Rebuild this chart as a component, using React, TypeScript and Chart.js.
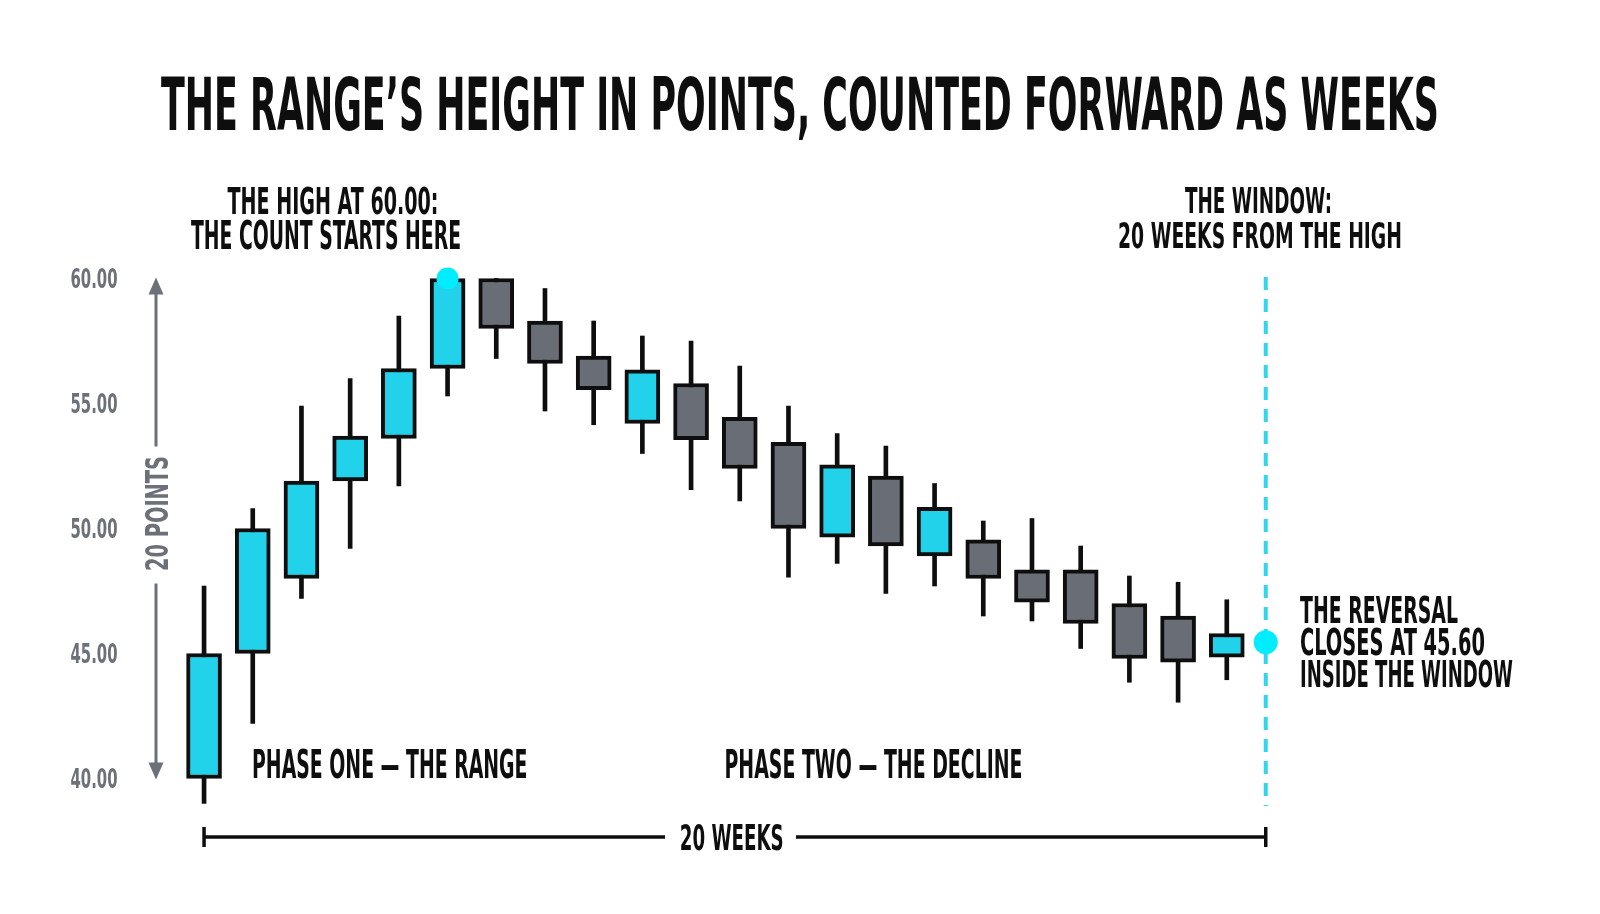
import { useEffect, useRef } from 'react';
import { Chart, registerables } from 'chart.js';

Chart.register(...registerables);

// weekly candles
const weeks = [0, 1, 2, 3, 4, 5, 6, 7, 8, 9, 10, 11, 12, 13, 14, 15, 16, 17, 18, 19, 20, 21];
const opens = [40.0, 45.0, 48.0, 51.9, 53.6, 56.4, 60.0, 58.3, 56.9, 54.2, 55.8, 54.45, 53.45, 49.65, 52.1, 48.9, 49.55, 48.35, 48.35, 47.0, 46.5, 44.85];
const closes = [45.0, 50.0, 51.9, 53.7, 56.4, 60.0, 58.0, 56.6, 55.55, 56.35, 53.55, 52.4, 50.0, 52.55, 49.3, 50.85, 48.0, 47.05, 46.2, 44.8, 44.65, 45.8];
const highs = [47.7, 50.8, 54.9, 56.0, 58.5, 60.0, 60.0, 59.6, 58.3, 57.7, 57.5, 56.5, 54.9, 53.8, 53.3, 51.8, 50.3, 50.4, 49.3, 48.1, 47.85, 47.15];
const lows = [39.0, 42.2, 47.2, 49.2, 51.7, 55.3, 56.8, 54.7, 54.15, 53.0, 51.55, 51.1, 48.05, 48.6, 47.4, 47.7, 46.5, 46.3, 45.2, 43.85, 43.05, 43.95];

const yTicks = [40, 45, 50, 55, 60];

// the two marked points: the high, and the close on the window line
const markerX = [5, 21.8];
const markerY = [60.0, 45.45];
const windowX = 21.8;
const windowSpan = [60.06, 38.9];

const CYAN = '#22d1ea';
const GRAY = '#686d76';
const INK = '#0e0e0e';
const DOT = '#00edff';
const AXIS = '#6b7079';
const FONT = "'Liberation Sans Narrow', 'DejaVu Sans Condensed', 'DejaVu Sans', sans-serif";

function fitText(
  ctx: CanvasRenderingContext2D,
  text: string,
  x: number,
  baseline: number,
  capH: number,
  width: number,
  align: CanvasTextAlign,
  color: string,
) {
  ctx.save();
  ctx.font = `bold ${capH / 0.72}px ${FONT}`;
  const w = ctx.measureText(text).width;
  ctx.translate(x, baseline);
  ctx.scale(width / w, 1);
  ctx.textAlign = align;
  ctx.textBaseline = 'alphabetic';
  ctx.fillStyle = color;
  ctx.fillText(text, 0, 0);
  ctx.restore();
}

const annotations = {
  id: 'annotations',
  afterDraw(chart: Chart) {
    const ctx = chart.ctx;
    const xs = chart.scales.x;
    const ys = chart.scales.y;
    const area = chart.chartArea;

    // title
    fitText(ctx, 'THE RANGE\u2019S HEIGHT IN POINTS, COUNTED FORWARD AS WEEKS', 800, 129.5, 52, 1278, 'center', INK);

    // callouts
    fitText(ctx, 'THE HIGH AT 60.00:', 333, 214, 27, 211, 'center', INK);
    fitText(ctx, 'THE COUNT STARTS HERE', 326, 249, 27.5, 270, 'center', INK);
    fitText(ctx, 'THE WINDOW:', 1258.5, 213, 26, 147, 'center', INK);
    fitText(ctx, '20 WEEKS FROM THE HIGH', 1260, 247.5, 25.5, 284, 'center', INK);
    fitText(ctx, 'THE REVERSAL', 1300, 623, 26.5, 158, 'left', INK);
    fitText(ctx, 'CLOSES AT 45.60', 1300, 655, 27, 185, 'left', INK);
    fitText(ctx, 'INSIDE THE WINDOW', 1300, 687, 27, 213, 'left', INK);
    fitText(ctx, 'PHASE ONE \u2014 THE RANGE', 252, 777.5, 27.5, 275.5, 'left', INK);
    fitText(ctx, 'PHASE TWO \u2014 THE DECLINE', 724.5, 777.5, 27.5, 298, 'left', INK);

    // y tick labels
    ys.ticks.forEach((t) => {
      const py = ys.getPixelForValue(t.value);
      fitText(ctx, t.value.toFixed(2), 117.5, py + 9.75, 19.5, 47, 'right', AXIS);
    });

    // vertical "20 points" arrow
    const ax = area.left + 25;
    const top = ys.getPixelForValue(60) - 1;
    const bot = ys.getPixelForValue(40) + 1;
    const midY = 513.5;
    ctx.save();
    ctx.strokeStyle = AXIS;
    ctx.fillStyle = AXIS;
    ctx.lineWidth = 3;
    ctx.beginPath();
    ctx.moveTo(ax, top + 12);
    ctx.lineTo(ax, midY - 67);
    ctx.moveTo(ax, midY + 70);
    ctx.lineTo(ax, bot - 12);
    ctx.stroke();
    ctx.beginPath();
    ctx.moveTo(ax, top);
    ctx.lineTo(ax - 7.5, top + 17);
    ctx.lineTo(ax + 7.5, top + 17);
    ctx.closePath();
    ctx.fill();
    ctx.beginPath();
    ctx.moveTo(ax, bot);
    ctx.lineTo(ax - 7.5, bot - 17);
    ctx.lineTo(ax + 7.5, bot - 17);
    ctx.closePath();
    ctx.fill();
    ctx.restore();
    ctx.save();
    ctx.translate(ax, midY);
    ctx.rotate(-Math.PI / 2);
    fitText(ctx, '20 POINTS', 0, 11.5, 23, 115, 'center', AXIS);
    ctx.restore();

    // bottom "20 weeks" bracket
    const bx0 = xs.getPixelForValue(weeks[0]);
    const bx1 = xs.getPixelForValue(windowX);
    const by = area.bottom + 58.5;
    ctx.save();
    ctx.strokeStyle = INK;
    ctx.lineWidth = 3.5;
    ctx.beginPath();
    ctx.moveTo(bx0, by);
    ctx.lineTo(665, by);
    ctx.moveTo(796, by);
    ctx.lineTo(bx1, by);
    ctx.moveTo(bx0, by - 10);
    ctx.lineTo(bx0, by + 10);
    ctx.moveTo(bx1, by - 10);
    ctx.lineTo(bx1, by + 10);
    ctx.stroke();
    ctx.restore();
    fitText(ctx, '20 WEEKS', 731.7, 850, 25.5, 104, 'center', INK);
  },
};

export default function App() {
  const canvasRef = useRef<HTMLCanvasElement>(null);

  useEffect(() => {
    if (!canvasRef.current) return;
    const ctx = canvasRef.current.getContext('2d');
    if (!ctx) return;

    const chart = new Chart(ctx, {
      type: 'bar',
      data: {
        datasets: [
          {
            type: 'line',
            data: windowSpan.map((y) => ({ x: windowX, y })),
            borderColor: '#2fd6ec',
            borderWidth: 4,
            borderDash: [13, 9],
            pointRadius: 0,
            clip: false,
            order: 4,
          },
          {
            type: 'bar',
            data: weeks.map((w, i) => ({ x: w, y: [lows[i], highs[i]] })),
            backgroundColor: INK,
            borderWidth: 0,
            barThickness: 4,
            grouped: false,
            clip: false,
            order: 3,
          },
          {
            type: 'bar',
            data: weeks.map((w, i) => ({ x: w, y: [opens[i], closes[i]] })),
            backgroundColor: weeks.map((_, i) => (closes[i] >= opens[i] ? CYAN : GRAY)),
            borderColor: INK,
            borderWidth: 4,
            borderSkipped: false,
            barThickness: 35,
            grouped: false,
            clip: false,
            order: 2,
          },
          {
            type: 'scatter',
            data: markerX.map((x, i) => ({ x, y: markerY[i] })),
            backgroundColor: DOT,
            borderWidth: 0,
            pointRadius: [11, 12],
            clip: false,
            order: 1,
          },
        ],
      } as any,
      options: {
        animation: false,
        responsive: false,
        events: [],
        layout: { padding: { left: 131, right: 81, top: 278.5, bottom: 135.5 } },
        scales: {
          x: { type: 'linear', display: false, offset: false, min: -1.5, max: 27, grid: { offset: false } },
          y: {
            type: 'linear',
            min: 40,
            max: 60,
            display: true,
            ticks: { display: false },
            grid: { display: false },
            border: { display: false },
            afterBuildTicks: (s: any) => {
              s.ticks = yTicks.map((v) => ({ value: v }));
            },
            afterFit: (s: any) => {
              s.width = 0;
            },
          },
        },
        plugins: { legend: { display: false }, tooltip: { enabled: false } },
      },
      plugins: [annotations],
    });

    return () => chart.destroy();
  }, []);

  return (
    <div style={{ position: 'absolute', left: 0, top: 0, width: 1600, height: 914, background: '#fff' }}>
      <canvas ref={canvasRef} width={1600} height={914} />
    </div>
  );
}
